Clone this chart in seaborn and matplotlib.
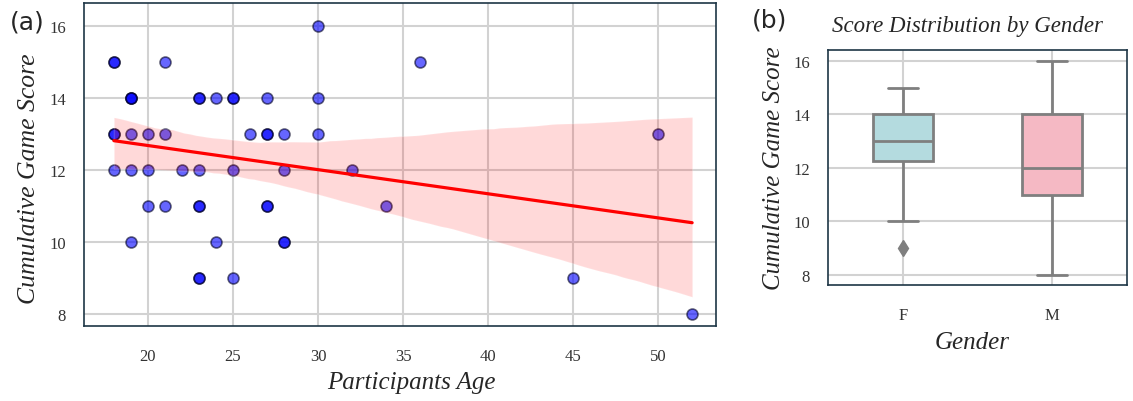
import numpy as np
import pandas as pd
import matplotlib
matplotlib.use("Agg")
import matplotlib.pyplot as plt
import seaborn as sns

# -------------------------------
# Data
# -------------------------------
age = [18, 18, 21, 36, 30,
       19, 19, 19, 23, 23, 24, 25, 25, 27, 30,
       18, 18, 19, 20, 21, 26, 27, 27, 28, 30, 50,
       18, 19, 20, 22, 23, 25, 28, 32,
       20, 21, 23, 23, 27, 27, 34,
       19, 24, 28, 28,
       23, 23, 25, 45,
       52]
score = [15, 15, 15, 15, 16,
         14, 14, 14, 14, 14, 14, 14, 14, 14, 14,
         13, 13, 13, 13, 13, 13, 13, 13, 13, 13, 13,
         12, 12, 12, 12, 12, 12, 12, 12,
         11, 11, 11, 11, 11, 11, 11,
         10, 10, 10, 10,
         9, 9, 9, 9,
         8]
gender = ["F", "F", "F", "M", "M",
          "F", "M", "M", "M", "M", "F", "M", "M", "F", "M",
          "F", "F", "F", "F", "F", "M", "F", "F", "M", "M", "M",
          "F", "M", "F", "M", "M", "M", "M", "M",
          "F", "M", "M", "M", "M", "M", "M",
          "F", "M", "M", "M",
          "F", "M", "M", "M",
          "M"]

gender_order = ["F", "M"]
box_colors = ["#b4dbdf", "#f5b9c4"]

df = pd.DataFrame({"age": age, "score": score, "gender": gender})

# -------------------------------
# Style
# -------------------------------
sns.set_style("whitegrid")
plt.rcParams["font.family"] = ["Liberation Serif", "DejaVu Serif"]
spine_col = "#1e3646"
grid_col = "#d2d2d2"

fig = plt.figure(figsize=(11.33, 4.02), dpi=100)
ax1 = fig.add_axes([0.0741, 0.1866, 0.5578, 0.8035])
ax2 = fig.add_axes([0.7308, 0.2886, 0.2639, 0.5846])

# -------------------------------
# (a) scatter + regression
# -------------------------------
sns.regplot(data=df, x="age", y="score", ax=ax1, ci=95,
            scatter_kws={"s": 62, "color": "#0000ff", "alpha": 0.6,
                         "edgecolor": "#000022", "linewidths": 1.2},
            line_kws={"color": "#ff0000", "lw": 2.3})
ax1.set_xlim(16.24, 53.4)
ax1.set_ylim(7.67, 16.64)
ax1.set_xticks([20, 25, 30, 35, 40, 45, 50])
ax1.set_yticks([8, 10, 12, 14, 16])
ax1.set_xlabel("Participants Age", fontsize=18, style="italic")
ax1.set_ylabel("Cumulative Game Score", fontsize=18.5, style="italic")
ax1.xaxis.set_label_coords(0.518, -0.138)
ax1.yaxis.set_label_coords(-0.07, 0.46)

# -------------------------------
# (b) box plot by gender
# -------------------------------
sns.boxplot(data=df, x="gender", y="score", order=gender_order, hue="gender",
            hue_order=gender_order, palette=box_colors, saturation=1,
            width=0.4, linewidth=2, linecolor="#7f7f7f", legend=False,
            flierprops={"marker": "d", "markerfacecolor": "#7f7f7f",
                        "markeredgecolor": "#7f7f7f", "markersize": 8},
            ax=ax2)
ax2.set_ylim(7.62, 16.41)
ax2.set_yticks([8, 10, 12, 14, 16])
ax2.set_xlabel("Gender", fontsize=18, style="italic")
ax2.set_ylabel("Cumulative Game Score", fontsize=18, style="italic", labelpad=6)
ax2.xaxis.set_label_coords(0.483, -0.195)
ax2.set_title("Score Distribution by Gender", fontsize=16.5, style="italic",
              pad=14, x=0.465)
ax2.xaxis.grid(False)

for ax in (ax1, ax2):
    for sp in ax.spines.values():
        sp.set_visible(True)
        sp.set_color(spine_col)
        sp.set_linewidth(1.2)
    ax.grid(color=grid_col, linewidth=1.5)
    ax.tick_params(axis="both", labelsize=12, colors=grid_col, labelcolor="#333333",
                   length=5, width=1.2)
    ax.tick_params(axis="x", pad=11)
    ax.tick_params(axis="y", pad=8)
    ax.set_axisbelow(True)

fig.text(0.009, 0.945, "(a)", fontsize=18, family="DejaVu Sans", va="center")
fig.text(0.664, 0.95, "(b)", fontsize=18, family="DejaVu Sans", va="center")

fig.savefig("out.png", dpi=100)
